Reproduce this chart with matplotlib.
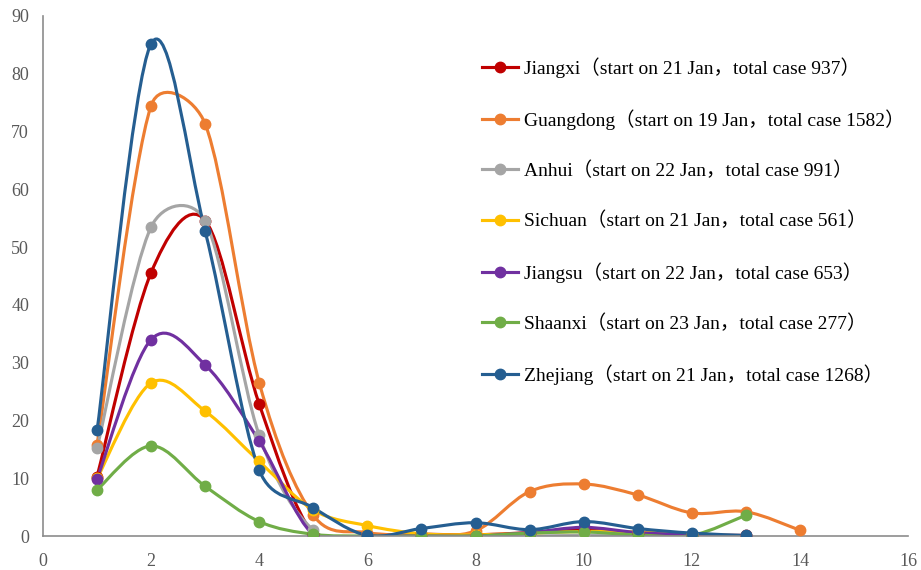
"""
Daily new cases (% of total) per province after the first reported case.
Smoothed lines follow the spreadsheet-style Bezier smoothing.
"""

import numpy as np
import matplotlib.pyplot as plt
from matplotlib.path import Path
from matplotlib.patches import PathPatch
from matplotlib.lines import Line2D

# ====================== DATA ======================
days_13 = list(range(1, 14))
days_14 = list(range(1, 15))

jiangxi   = [10.3, 45.6, 54.6, 22.8, 0.3, 0.2, 0.3, 0.2, 0.6, 1.0, 0.5, 0.2, 0.1]
guangdong = [15.8, 74.5, 71.3, 26.5, 3.6, 0.6, 0.3, 0.9, 7.7, 9.0, 7.1, 4.0, 4.2, 1.0]
anhui     = [15.2, 53.5, 54.5, 17.4, 1.0, 0.0, 0.0, 0.0, 0.0, 0.1, 0.0, 0.0, 0.0]
sichuan   = [10.0, 26.5, 21.6, 12.9, 4.5, 1.8, 0.4, 0.2, 0.5, 0.8, 0.7, 0.3, 0.0]
jiangsu   = [9.9, 34.0, 29.6, 16.4, 0.2, 0.0, 0.0, 0.0, 0.6, 1.5, 0.6, 0.2, 0.0]
shaanxi   = [8.0, 15.6, 8.6, 2.5, 0.3, 0.0, 0.0, 0.0, 0.5, 0.7, 0.2, 0.1, 3.6]
zhejiang  = [18.3, 85.2, 52.7, 11.4, 4.9, 0.1, 1.3, 2.3, 1.1, 2.5, 1.3, 0.5, 0.1]

labels = [
    "Jiangxi（start on 21 Jan，total case 937）",
    "Guangdong（start on 19 Jan，total case 1582）",
    "Anhui（start on 22 Jan，total case 991）",
    "Sichuan（start on 21 Jan，total case 561）",
    "Jiangsu（start on 22 Jan，total case 653）",
    "Shaanxi（start on 23 Jan，total case 277）",
    "Zhejiang（start on 21 Jan，total case 1268）",
]
colors = ["#C00000", "#ED7D31", "#A5A5A5", "#FFC000", "#7030A0", "#70AD47", "#255E91"]
series = [
    (days_13, jiangxi), (days_14, guangdong), (days_13, anhui), (days_13, sichuan),
    (days_13, jiangsu), (days_13, shaanxi), (days_13, zhejiang),
]

FONT = ["Liberation Serif", "Noto Sans CJK SC"]


def arm(v, limit):
    """Catmull-Rom tangent arm (1/6 of neighbour span), capped at half the segment."""
    a = v / 6.0
    n = np.hypot(*a)
    if n > limit and n > 0:
        a = a * limit / n
    return a


def smooth_path(ax, x, y):
    """Bezier through the points, computed in display space."""
    data = np.column_stack([x, y]).astype(float)
    pts = ax.transData.transform(data)
    n = len(pts)
    verts = [pts[0]]
    codes = [Path.MOVETO]
    for i in range(n - 1):
        p0 = pts[i - 1] if i > 0 else pts[i]
        p1 = pts[i]
        p2 = pts[i + 1]
        p3 = pts[i + 2] if i + 2 < n else pts[i + 1]
        half = np.hypot(*(p2 - p1)) / 2.0
        c1 = p1 + arm(p2 - p0, half)
        c2 = p2 - arm(p3 - p1, half)
        verts += [c1, c2, p2]
        codes += [Path.CURVE4] * 3
    verts = ax.transData.inverted().transform(np.array(verts))
    return Path(verts, codes)


# ====================== PLOT ======================
fig = plt.figure(figsize=(9.21, 5.70), dpi=100)
ax = fig.add_axes([0.0467, 0.0596, 0.9393, 0.9124])
ax.set_xlim(0, 16)
ax.set_ylim(0, 90)

handles = []
for (x, y), c, lab in zip(series, colors, labels):
    ax.add_patch(PathPatch(smooth_path(ax, x, y), facecolor="none", edgecolor=c,
                           lw=2.25, capstyle="round", joinstyle="round", zorder=2))
    ax.plot(x, y, "o", color=c, ms=7.5, zorder=3)
    handles.append(Line2D([], [], color=c, lw=2.25, marker="o", ms=7.5))

ax.set_xticks(range(0, 17, 2))
ax.set_yticks(range(0, 91, 10))
for s in ["top", "right"]:
    ax.spines[s].set_visible(False)
for s in ["bottom", "left"]:
    ax.spines[s].set_color("#8C8C8C")
    ax.spines[s].set_linewidth(1.2)
ax.tick_params(length=0, labelsize=13, labelcolor="#595959")
ax.tick_params(axis="y", pad=10)
ax.tick_params(axis="x", pad=12)
for t in ax.get_xticklabels() + ax.get_yticklabels():
    t.set_family(FONT)

leg = ax.legend(handles, labels, loc="upper left", bbox_to_anchor=(0.508, 0.921),
                frameon=False, handlelength=1.85, handletextpad=0.3,
                borderpad=0, borderaxespad=0,
                labelspacing=1.63, prop={"family": FONT, "size": 14})

plt.savefig("out.png", dpi=100)
